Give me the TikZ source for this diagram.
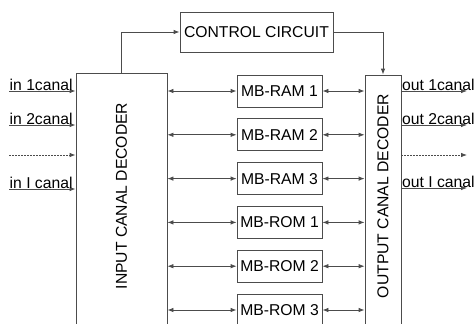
\documentclass[tikz,border=0pt]{standalone}
\usepackage{fontspec}
\setmainfont{Liberation Sans}
\usetikzlibrary{arrows.meta,positioning}
\definecolor{linegray}{gray}{0.3}
\tikzset{
  blk/.style={draw=linegray, line width=0.8pt, inner sep=0pt},
  mb/.style={blk, minimum width=85pt, minimum height=32pt},
  wire/.style={draw=linegray, line width=0.8pt, -{Latex[length=6pt,width=4.5pt]}},
  biwire/.style={wire, {Latex[length=6pt,width=4.5pt]}-{Latex[length=6pt,width=4.5pt]}},
  dotwire/.style={wire, dash pattern=on 2pt off 1pt},
  lbl/.style={inner sep=0.5pt}
}
\begin{document}
\begin{tikzpicture}[x=1pt, y=-1pt, font=\fontsize{15.7}{19}\selectfont]
    \useasboundingbox (0,0) rectangle (474,324);
    \clip (0,0) rectangle (474,324);

    % blocks
    \node[blk, minimum width=153pt, minimum height=40pt] (ctrl) at (256.5,32) {CONTROL CIRCUIT};
    \node[blk, minimum width=91pt, minimum height=280pt] (indec) at (121.5,213) {};
    \node[rotate=90] (intxt) at (121.5,196) {INPUT CANAL DECODER};
    \node[blk, minimum width=36pt, minimum height=280pt] (outdec) at (383,215) {};
    \node[rotate=90] (outtxt) at (383,196) {OUTPUT CANAL DECODER};

    \foreach \name/\txt [count=\i from 0] in {ram1/MB-RAM 1, ram2/MB-RAM 2, ram3/MB-RAM 3,
        rom1/MB-ROM 1, rom2/MB-ROM 2, rom3/MB-ROM 3}
    {
        \node[mb] (\name) at (279.5,{91+43.8*\i}) {\txt};
        \draw[biwire] (indec.east |- \name.west) -- (\name.west);
        \draw[biwire] (\name.east) -- (outdec.west |- \name.east);
    }

    % control
    \draw[wire] (indec.north) |- (ctrl.west);
    \draw[wire] (ctrl.east) -| (outdec.north);

    % inputs
    \coordinate (in1) at (9,91);
    \coordinate (in2) at (9,125);
    \coordinate (in3) at (9,155);
    \coordinate (in4) at (9,189);
    \draw[wire] (in1) -- (in1 -| indec.west);
    \draw[wire] (in2) -- (in2 -| indec.west);
    \draw[dotwire] (in3) -- (in3 -| indec.west);
    \draw[wire] (in4) -- (in4 -| indec.west);
    \node[lbl, above right] (inl1) at (in1) {in 1canal};
    \node[lbl, above right] (inl2) at (in2) {in 2canal};
    \node[lbl, above right] (inl4) at (in4) {in I canal};

    % outputs
    \coordinate (out1) at (467,91);
    \coordinate (out2) at (467,125);
    \coordinate (out3) at (467,155);
    \coordinate (out4) at (467,188);
    \draw[wire] (out1 -| outdec.east) -- (out1);
    \draw[wire] (out2 -| outdec.east) -- (out2);
    \draw[dotwire] (out3 -| outdec.east) -- (out3);
    \draw[wire] (out4 -| outdec.east) -- (out4);
    \node[lbl, above right] (outl1) at (out1 -| outdec.east) {out 1canal};
    \node[lbl, above right] (outl2) at (out2 -| outdec.east) {out 2canal};
    \node[lbl, above right] (outl4) at (out4 -| outdec.east) {out I canal};
\end{tikzpicture}
\end{document}
